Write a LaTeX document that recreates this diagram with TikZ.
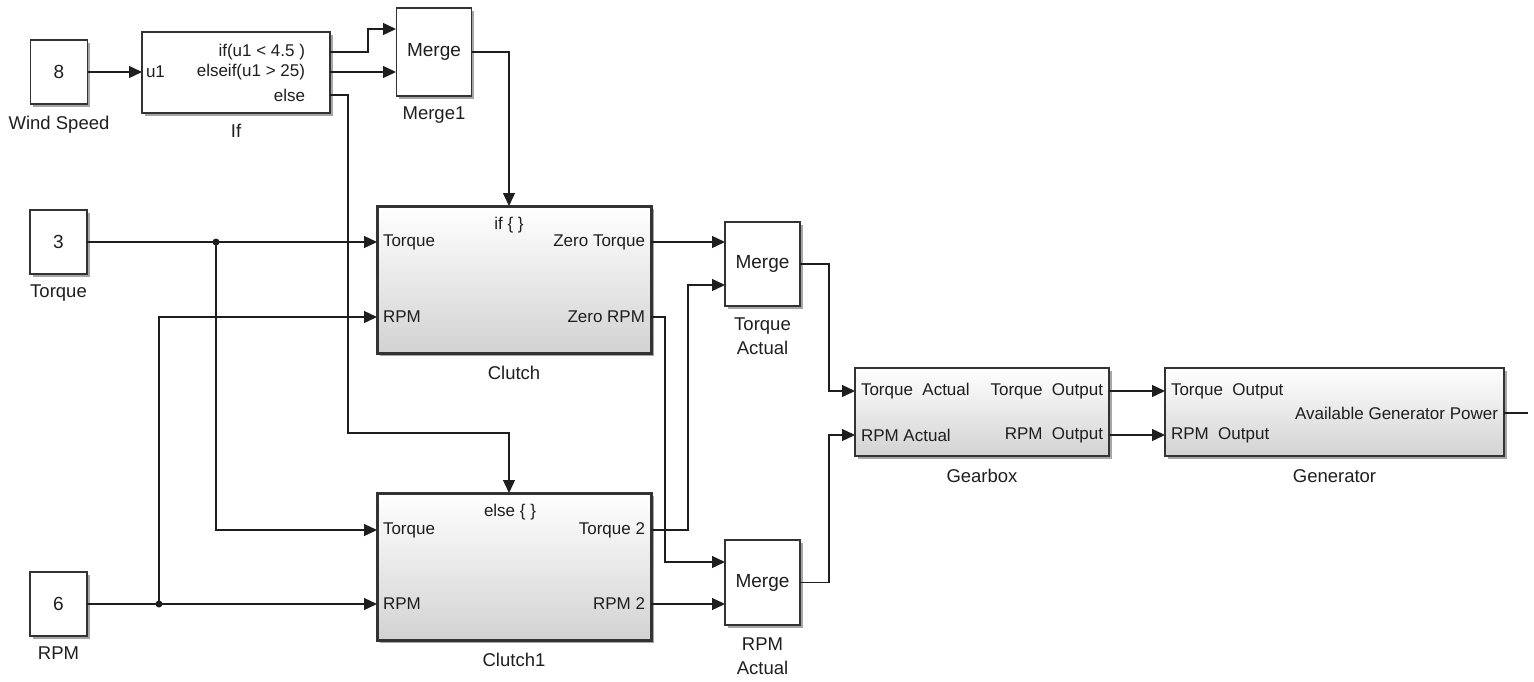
\documentclass[tikz,border=0pt]{standalone}
\usepackage{fontspec}
\setmainfont{Liberation Sans}
\usetikzlibrary{arrows.meta, positioning, shadows}
\definecolor{slInk}{HTML}{1e1e1e}
\definecolor{slEdge}{HTML}{333333}
\definecolor{slShade}{HTML}{d2d2d2}

\begin{document}
\begin{tikzpicture}[x=1pt, y=-1pt,
    blk/.style={draw=slEdge, line width=1.4pt, fill=white, inner sep=0pt, outer sep=0pt, text=slInk,
      drop shadow={shadow xshift=2.5pt, shadow yshift=-2.5pt, fill=black, opacity=0.35}},
    constblk/.style={blk, minimum width=57pt, minimum height=64pt, font=\fontsize{19}{21}\selectfont},
    mergeblk/.style={blk, minimum width=75pt, minimum height=85pt, font=\fontsize{19}{21}\selectfont},
    subsys/.style={blk, top color=white, middle color=white, bottom color=slShade},
    portin/.style={inner xsep=6pt, inner ysep=0pt, outer sep=0pt, anchor=west, text=slInk, font=\fontsize{17}{19}\selectfont},
    portout/.style={portin, anchor=east},
    blklabel/.style={inner sep=0pt, align=center, text=slInk, font=\fontsize{18.5}{24}\selectfont},
    sig/.style={draw=slInk, line width=1.3pt, -{Triangle[length=13pt, width=12pt]}},
    wire/.style={draw=slInk, line width=1.3pt},
    dot/.style={circle, fill=slInk, inner sep=0pt, minimum size=7pt}]
  \useasboundingbox (0,0) rectangle (1534,681);

  % sources
  \node[constblk] (wind) at (59,72) {8};
  \node[blklabel, below=12pt of wind] {Wind Speed};
  \node[constblk] (torq) at (58.5,242) {3};
  \node[blklabel, below=11pt of torq] {Torque};
  \node[constblk] (rpm) at (58.5,604) {6};
  \node[blklabel, below=11pt of rpm] {RPM};

  % if block and merge
  \node[blk, minimum width=188pt, minimum height=81pt] (ifblk) at (236,72.5) {};
  \node[blklabel, below=11pt of ifblk] {If};
  \node[portin, inner xsep=4pt] (ifu) at (142,72) {u1};
  \node[portout] (ifa) at (311,52) {if(u1 < 4.5 )};
  \node[portout] (ifb) at (311,72) {elseif(u1 > 25)};
  \node[portout] (ifc) at (311,95) {else};
  \node[mergeblk, minimum height=88pt] (merge1) at (434,52) {Merge};
  \node[blklabel, below=11pt of merge1] {Merge1};
  \coordinate (m1a) at (396,29);
  \coordinate (m1b) at (396,72);

  % clutch subsystems
  \node[subsys, line width=3pt, minimum width=274pt, minimum height=147pt] (clutch) at (514,279.5) {};
  \node[blklabel, below=13pt of clutch] {Clutch};
  \node[portin, anchor=center] at (509,225) {if \{ \}};
  \node[portin] (cT) at (377,242) {Torque};
  \node[portin] (cR) at (377,317) {RPM};
  \node[portout] (cZT) at (651,242) {Zero Torque};
  \node[portout] (cZR) at (651,317) {Zero RPM};

  \node[subsys, line width=3pt, minimum width=274pt, minimum height=147pt] (clutch1) at (514,566.5) {};
  \node[blklabel, below=13pt of clutch1] {Clutch1};
  \node[portin, anchor=center] at (510,512) {else \{ \}};
  \node[portin] (c1T) at (377,530) {Torque};
  \node[portin] (c1R) at (377,604) {RPM};
  \node[portout] (c1T2) at (651,530) {Torque 2};
  \node[portout] (c1R2) at (651,604) {RPM 2};

  % merges
  \node[mergeblk, minimum height=84pt] (mta) at (762.5,264) {Merge};
  \node[blklabel, below=12pt of mta] {Torque\\Actual};
  \node[mergeblk] (mra) at (762.5,582.5) {Merge};
  \node[blklabel, below=13pt of mra] {RPM\\Actual};
  \coordinate (mtaB) at (725,285);
  \coordinate (mraA) at (725,562);

  % gearbox and generator
  \node[subsys, minimum width=254pt, minimum height=88pt] (gear) at (982,412) {};
  \node[blklabel, below=13pt of gear] {Gearbox};
  \node[portin] (gTA) at (855,391) {Torque\ \ Actual};
  \node[portin] (gRA) at (855,435) {RPM Actual};
  \node[portout] (gTO) at (1109,391) {Torque\ \ Output};
  \node[portout] (gRO) at (1109,435) {RPM\ \ Output};

  \node[subsys, minimum width=339pt, minimum height=88pt] (gen) at (1334.5,412) {};
  \node[blklabel, below=13pt of gen] {Generator};
  \node[portin] (genTO) at (1165,391) {Torque\ \ Output};
  \node[portin] (genRO) at (1165,435) {RPM\ \ Output};
  \node[portout] (genP) at (1504,413) {Available Generator Power};
  \coordinate (pout) at (1528,413);

  % signals
  \draw[sig] (wind.east) -- (ifu.west);
  \draw[sig] (ifblk.east |- ifa) -- ++(38,0) |- (m1a);
  \draw[sig] (ifblk.east |- ifb) -- (m1b);
  \draw[sig] (ifblk.east |- ifc) -- ++(18,0) -- ++(0,338) -| ([xshift=-5pt]clutch1.north);
  \draw[sig] (merge1.east) -| ([xshift=-5pt]clutch.north);

  \coordinate (jT) at (216,242);
  \coordinate (jR) at (159,604);
  \draw[sig] (torq.east) -- (cT.west);
  \draw[sig] (jT) |- (c1T.west);
  \draw[sig] (rpm.east) -- (c1R.west);
  \draw[sig] (jR) |- (cR.west);
  \node[dot] at (jT) {};
  \node[dot] at (jR) {};

  \draw[sig] (cZT.east) -- (mta.west |- cZT.east);
  \draw[sig] (cZR.east) -- ++(14,0) |- (mraA);
  \draw[sig] (c1T2.east) -- ++(37,0) |- (mtaB);
  \draw[sig] (c1R2.east) -- (mra.west |- c1R2.east);

  \draw[sig] (mta.east) -- ++(29,0) |- (gTA.west);
  \draw[sig] (mra.east) -- ++(29,0) |- (gRA.west);
  \draw[sig] (gTO.east) -- (genTO.west);
  \draw[sig] (gRO.east) -- (genRO.west);
  \draw[wire] (genP.east) -- (pout);
\end{tikzpicture}
\end{document}
